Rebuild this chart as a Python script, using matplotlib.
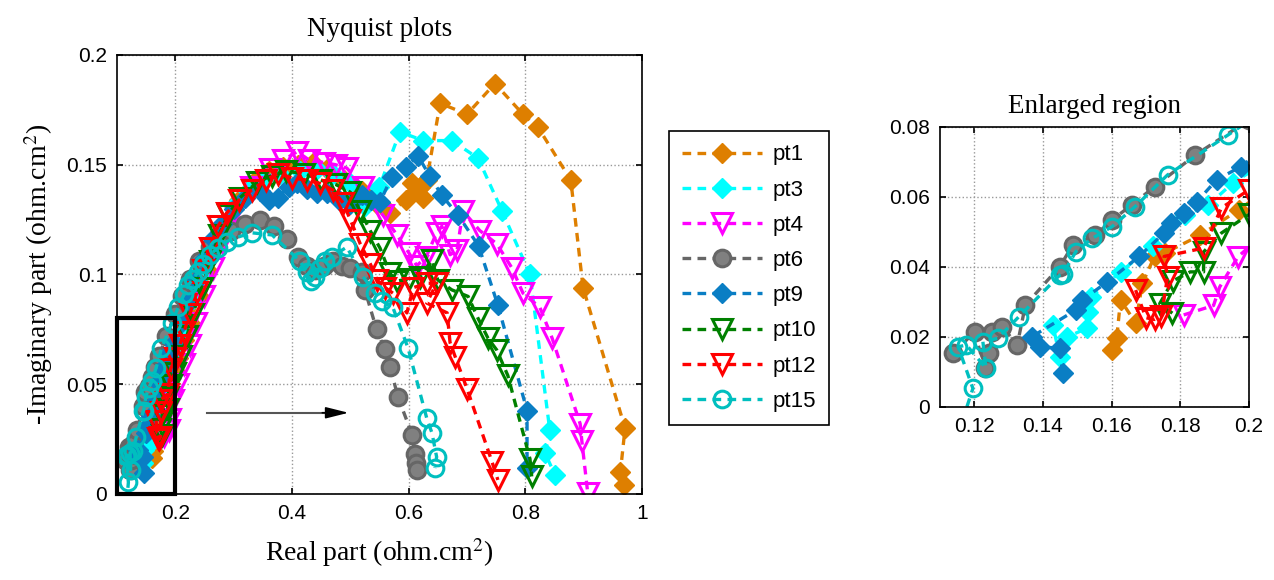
import numpy as np
import matplotlib
matplotlib.use('Agg')
import matplotlib.pyplot as plt
from matplotlib.patches import Rectangle

plt.rcParams['font.family'] = ['Liberation Sans', 'DejaVu Sans']
plt.rcParams['mathtext.fontset'] = 'stix'

# ---- data (real part, -imaginary part) ----
pt1_x = [0.160, 0.1615, 0.1626, 0.167, 0.169, 0.1725, 0.1755, 0.1857, 0.197,
         0.205, 0.215, 0.225, 0.24, 0.255, 0.27, 0.29, 0.31, 0.335, 0.36, 0.385,
         0.41, 0.436, 0.46, 0.49, 0.52, 0.545, 0.568, 0.595, 0.606, 0.614, 0.625,
         0.62, 0.631, 0.654, 0.700, 0.748, 0.796, 0.822, 0.878, 0.899, 0.971,
         0.963, 0.970]
pt1_y = [0.0163, 0.0197, 0.0306, 0.0240, 0.0354, 0.043, 0.044, 0.049, 0.0563,
         0.062, 0.070, 0.078, 0.090, 0.102, 0.113, 0.125, 0.134, 0.142, 0.147, 0.149,
         0.150, 0.151, 0.148, 0.143, 0.138, 0.132, 0.128, 0.134, 0.1415, 0.1385, 0.135,
         0.140, 0.143, 0.178, 0.173, 0.187, 0.173, 0.167, 0.143, 0.094, 0.030,
         0.010, 0.004]

pt3_x = [0.1449, 0.1429, 0.147, 0.1529, 0.153, 0.154, 0.1626, 0.172, 0.1815, 0.1882,
         0.1953, 0.205, 0.215, 0.23, 0.245, 0.26, 0.28, 0.30, 0.325, 0.35, 0.38,
         0.414, 0.443, 0.47, 0.50, 0.525, 0.55, 0.585, 0.625, 0.674, 0.719, 0.760,
         0.808, 0.842, 0.834, 0.851]
pt3_y = [0.0143, 0.0234, 0.020, 0.0225, 0.027, 0.0315, 0.0386, 0.046, 0.0549, 0.0577,
         0.064, 0.070, 0.077, 0.089, 0.100, 0.110, 0.122, 0.131, 0.138, 0.143, 0.146,
         0.147, 0.148, 0.146, 0.1415, 0.131, 0.140, 0.165, 0.161, 0.161, 0.153, 0.129,
         0.100, 0.029, 0.0185, 0.0087]

pt4_x = [0.181, 0.1897, 0.1915, 0.1968, 0.205, 0.215, 0.225, 0.235, 0.25, 0.265,
         0.28, 0.30, 0.33, 0.362, 0.385, 0.409, 0.43, 0.455, 0.475, 0.494, 0.522,
         0.556, 0.58, 0.60, 0.614, 0.63, 0.648, 0.657, 0.671, 0.683, 0.693, 0.722,
         0.751, 0.777, 0.796, 0.825, 0.846, 0.894, 0.897, 0.907]
pt4_y = [0.0263, 0.029, 0.0343, 0.0429, 0.050, 0.059, 0.068, 0.078, 0.090, 0.103,
         0.115, 0.128, 0.140, 0.148, 0.152, 0.156, 0.152, 0.151, 0.150, 0.1485, 0.140,
         0.127, 0.118, 0.110, 0.104, 0.108, 0.119, 0.122, 0.109, 0.111, 0.129, 0.120,
         0.114, 0.103, 0.0915, 0.085, 0.071, 0.032, 0.024, 0.0005]

pt6_x = [0.1139, 0.1201, 0.123, 0.1243, 0.1253, 0.1282, 0.1325, 0.1349, 0.1449,
         0.1487, 0.1553, 0.1601, 0.1658, 0.1725, 0.1844, 0.2, 0.212, 0.225, 0.24,
         0.259, 0.275, 0.295, 0.32, 0.345, 0.37, 0.391, 0.41, 0.425, 0.44, 0.455,
         0.47, 0.485, 0.50, 0.52, 0.525, 0.545, 0.559, 0.568, 0.582, 0.606, 0.611,
         0.613, 0.614]
pt6_y = [0.0153, 0.0215, 0.0111, 0.0154, 0.0215, 0.0229, 0.0177, 0.0291, 0.0401,
         0.0463, 0.0491, 0.0534, 0.0577, 0.0629, 0.072, 0.082, 0.090, 0.098, 0.106,
         0.1125, 0.117, 0.120, 0.123, 0.125, 0.122, 0.116, 0.108, 0.104, 0.102, 0.104,
         0.106, 0.104, 0.103, 0.101, 0.093, 0.075, 0.066, 0.058, 0.044, 0.027, 0.018,
         0.014, 0.011]

pt9_x = [0.1457, 0.1449, 0.1391, 0.1368, 0.1496, 0.1515, 0.1587, 0.168, 0.1753,
         0.1772, 0.181, 0.1849, 0.1906, 0.1977, 0.21, 0.222, 0.235, 0.25, 0.265,
         0.28, 0.30, 0.32, 0.345, 0.36, 0.376, 0.395, 0.409, 0.425, 0.443, 0.46,
         0.48, 0.50, 0.52, 0.535, 0.551, 0.571, 0.595, 0.616, 0.636, 0.657, 0.685,
         0.72, 0.753, 0.803, 0.803]
pt9_y = [0.0097, 0.0168, 0.0172, 0.0201, 0.0277, 0.0306, 0.0357, 0.043, 0.0497,
         0.0526, 0.0554, 0.0587, 0.0649, 0.0687, 0.078, 0.087, 0.097, 0.107, 0.116,
         0.123, 0.130, 0.135, 0.138, 0.134, 0.135, 0.140, 0.1415, 0.139, 0.137, 0.137,
         0.134, 0.132, 0.136, 0.134, 0.133, 0.1445, 0.149, 0.154, 0.145, 0.136, 0.127,
         0.113, 0.086, 0.038, 0.012]

pt10_x = [0.1777, 0.174, 0.1778, 0.1829, 0.1868, 0.1868, 0.192, 0.2, 0.21, 0.22,
          0.23, 0.245, 0.26, 0.275, 0.29, 0.311, 0.34, 0.365, 0.39, 0.42, 0.45,
          0.475, 0.50, 0.517, 0.534, 0.551, 0.568, 0.58, 0.60, 0.62, 0.64, 0.65,
          0.674, 0.702, 0.719, 0.736, 0.751, 0.770, 0.808, 0.811]
pt10_y = [0.0268, 0.0295, 0.036, 0.0386, 0.0386, 0.0443, 0.0497, 0.055, 0.063, 0.072,
          0.082, 0.094, 0.106, 0.118, 0.127, 0.135, 0.142, 0.145, 0.147, 0.146, 0.143,
          0.141, 0.1375, 0.129, 0.120, 0.112, 0.1005, 0.097, 0.098, 0.099, 0.1065, 0.0975,
          0.093, 0.090, 0.080, 0.071, 0.0656, 0.054, 0.016, 0.008]

pt12_x = [0.167, 0.170, 0.1725, 0.1745, 0.1763, 0.1753, 0.1868, 0.192, 0.2, 0.208,
          0.215, 0.225, 0.237, 0.248, 0.259, 0.273, 0.288, 0.31, 0.331, 0.355, 0.376,
          0.40, 0.425, 0.448, 0.47, 0.488, 0.50, 0.517, 0.534, 0.546, 0.56, 0.573,
          0.597, 0.608, 0.631, 0.648, 0.631, 0.666, 0.671, 0.68, 0.70, 0.743, 0.753]
pt12_y = [0.0334, 0.0255, 0.025, 0.026, 0.0372, 0.043, 0.0454, 0.0569, 0.062, 0.068,
          0.074, 0.082, 0.092, 0.102, 0.112, 0.122, 0.128, 0.134, 0.1385, 0.143, 0.146,
          0.144, 0.143, 0.1415, 0.1385, 0.1325, 0.125, 0.114, 0.105, 0.0975, 0.094, 0.0915,
          0.0825, 0.094, 0.096, 0.096, 0.087, 0.0825, 0.069, 0.0624, 0.048, 0.0146, 0.0064]

pt15_x = [0.1165, 0.1196, 0.1153, 0.1177, 0.1234, 0.1225, 0.1268, 0.133, 0.1449,
          0.1458, 0.1496, 0.1544, 0.1601, 0.1668, 0.1763, 0.1939, 0.205, 0.215, 0.222,
          0.230, 0.239, 0.248, 0.259, 0.273, 0.288, 0.307, 0.331, 0.366, 0.414, 0.425,
          0.433, 0.44, 0.448, 0.457, 0.468, 0.494, 0.522, 0.542, 0.554, 0.573, 0.599,
          0.631, 0.640, 0.648, 0.645]
pt15_y = [-0.004, 0.0053, 0.0172, 0.0177, 0.0111, 0.0187, 0.0196, 0.0258, 0.0377,
          0.038, 0.0444, 0.0482, 0.0515, 0.0572, 0.0663, 0.0777, 0.085, 0.091, 0.095,
          0.098, 0.101, 0.105, 0.109, 0.112, 0.115, 0.117, 0.119, 0.118, 0.106, 0.101,
          0.097, 0.099, 0.103, 0.106, 0.108, 0.1125, 0.099, 0.0915, 0.088, 0.085, 0.0665,
          0.0346, 0.0278, 0.0169, 0.0118]

labels = ['pt1', 'pt3', 'pt4', 'pt6', 'pt9', 'pt10', 'pt12', 'pt15']
xs = [pt1_x, pt3_x, pt4_x, pt6_x, pt9_x, pt10_x, pt12_x, pt15_x]
ys = [pt1_y, pt3_y, pt4_y, pt6_y, pt9_y, pt10_y, pt12_y, pt15_y]

# line colour, marker, marker face
styles = [
    dict(color='#DE7F00', marker='D', mfc='#DE7F00', ms=10),
    dict(color='#00FFFF', marker='D', mfc='#00FFFF', ms=10),
    dict(color='#FF00FF', marker='v', mfc='none', ms=15, mew=2.2),
    dict(color='#666666', marker='o', mfc='#808080', ms=12, mew=2.2),
    dict(color='#0A7EC4', marker='D', mfc='#0A7EC4', ms=10),
    dict(color='#008000', marker='v', mfc='none', ms=15, mew=2.2),
    dict(color='#FF0000', marker='v', mfc='none', ms=15, mew=2.2),
    dict(color='#00BFBF', marker='o', mfc='none', ms=12, mew=2.2),
]
dash = (0, (2.6, 1.9))

fig = plt.figure(figsize=(12.74, 5.80), dpi=100)
ax = fig.add_axes([0.0918, 0.1483, 0.4121, 0.7569])
ax2 = fig.add_axes([0.7378, 0.2983, 0.2425, 0.4828])

handles = []
for x, y, lab, st in zip(xs, ys, labels, styles):
    h, = ax.plot(x, y, linestyle=dash, lw=2.4, label=lab, **st)
    ax2.plot(x, y, linestyle=dash, lw=2.4, **st)
    handles.append(h)

for a in (ax, ax2):
    a.grid(True, linestyle=':', color='#999999', lw=1)
    a.tick_params(direction='in', top=True, right=True, labelsize=15, length=4,
                  width=1.2, pad=7)
    for s in a.spines.values():
        s.set_linewidth(1.2)
    a.set_axisbelow(True)

ax.set_xlim(0.1, 1)
ax.set_ylim(0, 0.2)
ax.set_xticks([0.2, 0.4, 0.6, 0.8, 1.0])
ax.set_xticklabels(['0.2', '0.4', '0.6', '0.8', '1'])
ax.set_yticks([0, 0.05, 0.1, 0.15, 0.2])
ax.set_yticklabels(['0', '0.05', '0.1', '0.15', '0.2'])
ax.set_title('Nyquist plots', family='Liberation Serif', fontsize=19.5, pad=14)
ax.set_xlabel('Real part (ohm.cm$^2$)', family='Liberation Serif', fontsize=20,
              labelpad=10)
ax.set_ylabel('-Imaginary part (ohm.cm$^2$)', family='Liberation Serif', fontsize=20,
              labelpad=8)

ax.add_patch(Rectangle((0.1, 0.0), 0.1, 0.08, fill=False, ec='black', lw=3,
                       clip_on=False, zorder=5))
ax.plot([0.255, 0.47], [0.037, 0.037], color='#555555', lw=1.5, zorder=5)
ax.annotate('', xy=(0.497, 0.037), xytext=(0.452, 0.037),
            arrowprops=dict(arrowstyle='-|>,head_length=1.4,head_width=0.35',
                            color='black', lw=1.2, shrinkA=0, shrinkB=0), zorder=6)

ax2.set_xlim(0.11, 0.2)
ax2.set_ylim(0, 0.08)
ax2.set_xticks([0.12, 0.14, 0.16, 0.18, 0.2])
ax2.set_xticklabels(['0.12', '0.14', '0.16', '0.18', '0.2'])
ax2.set_yticks([0, 0.02, 0.04, 0.06, 0.08])
ax2.set_yticklabels(['0', '0.02', '0.04', '0.06', '0.08'])
ax2.set_title('Enlarged region', family='Liberation Serif', fontsize=19.5, pad=10)

leg = fig.legend(handles, labels, loc='upper left', bbox_to_anchor=(0.5251, 0.7741),
                 bbox_transform=fig.transFigure, borderaxespad=0, fancybox=False,
                 edgecolor='black', framealpha=1, fontsize=16, handlelength=3.6,
                 handletextpad=0.45, labelspacing=0.64, borderpad=0.6)
leg.get_frame().set_linewidth(1.2)

fig.savefig('out.png', dpi=100)
